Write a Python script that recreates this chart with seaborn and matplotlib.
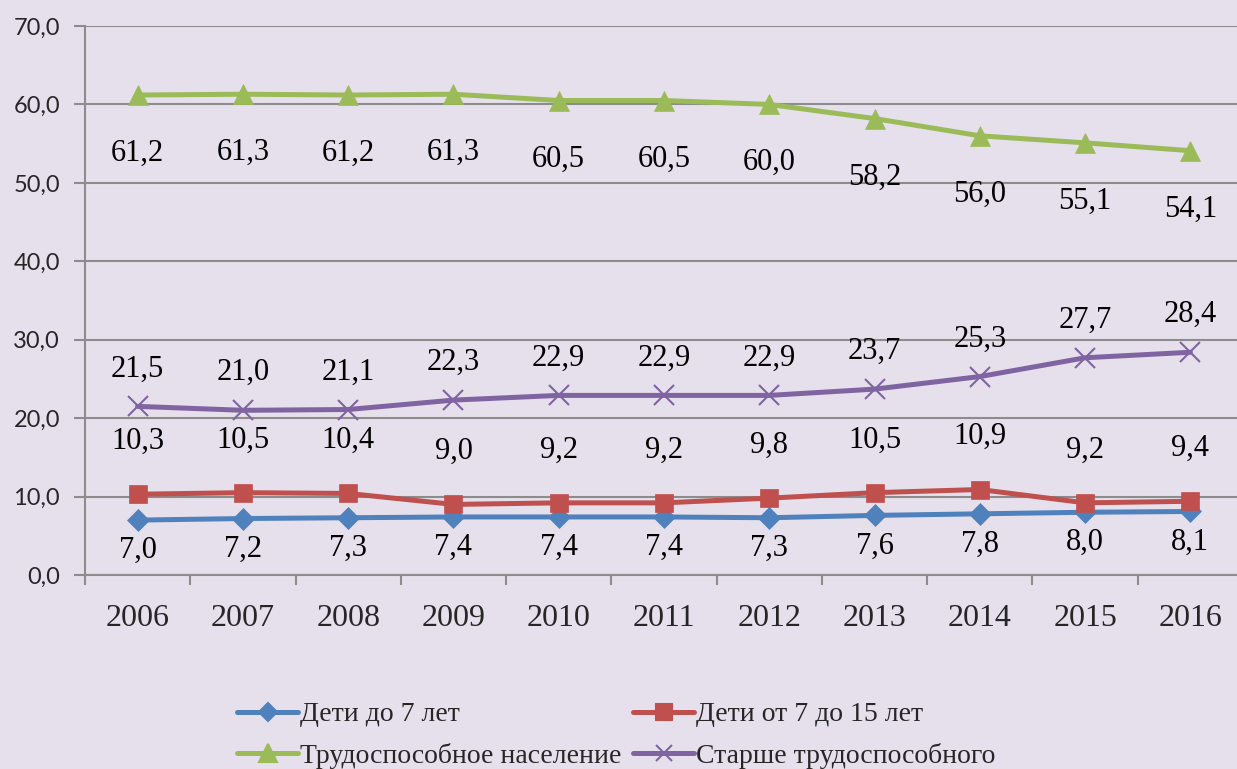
import matplotlib
matplotlib.use("Agg")
import matplotlib.pyplot as plt
import matplotlib.ticker as mticker
from matplotlib.lines import Line2D
import seaborn as sns
import pandas as pd

# данные
years = [2006, 2007, 2008, 2009, 2010, 2011, 2012, 2013, 2014, 2015, 2016]
kids_7 = [7.0, 7.2, 7.3, 7.4, 7.4, 7.4, 7.3, 7.6, 7.8, 8.0, 8.1]
kids_7_15 = [10.3, 10.5, 10.4, 9.0, 9.2, 9.2, 9.8, 10.5, 10.9, 9.2, 9.4]
working = [61.2, 61.3, 61.2, 61.3, 60.5, 60.5, 60.0, 58.2, 56.0, 55.1, 54.1]
older = [21.5, 21.0, 21.1, 22.3, 22.9, 22.9, 22.9, 23.7, 25.3, 27.7, 28.4]

names = ['Дети до 7 лет', 'Дети от 7 до 15 лет',
         'Трудоспособное население', 'Старше трудоспособного']
series = [kids_7, kids_7_15, working, older]
colors = ['#4F81BD', '#C0504D', '#9BBB59', '#8064A2']
markers = ['D', 's', '^', 'x']
msizes = [11, 13, 15, 14]
# смещение подписей (в пунктах)
label_dy = [-22, 38, -42, 27]

bg = '#E6E0EC'
grid_c = '#8C8C8C'

df = pd.concat([pd.DataFrame({'Год': years, 'Значение': v, 'Группа': n})
                for n, v in zip(names, series)], ignore_index=True)

sns.set_theme(style='white')
plt.rcParams['font.family'] = 'serif'
plt.rcParams['font.serif'] = ['Liberation Serif', 'DejaVu Serif']

fig = plt.figure(figsize=(12.37, 7.69), dpi=100, facecolor=bg)
ax = fig.add_axes([85 / 1237, 194 / 769, 1158 / 1237, 549 / 769])
ax.set_facecolor(bg)

for n, c, m, ms in zip(names, colors, markers, msizes):
    sub = df[df['Группа'] == n]
    sns.lineplot(data=sub, x='Год', y='Значение', color=c, lw=3.6,
                 marker=m, markersize=ms, markeredgecolor=c,
                 markeredgewidth=1.5 if m == 'x' else 0.5,
                 ax=ax, legend=False, zorder=3)

for vals, dy in zip(series, label_dy):
    for x, y in zip(years, vals):
        ax.annotate(f'{y:.1f}'.replace('.', ','), (x, y),
                    xytext=(0, dy), textcoords='offset points',
                    ha='center', va='center', fontsize=22, color='black')

ax.set_xlim(2005.5, 2016.5)
ax.set_ylim(0, 70)
ax.set_xticks(years)
ax.set_xticklabels([str(y) for y in years], fontsize=23)
ax.set_xticks([y + 0.5 for y in [2005] + years[:-1]], minor=True)
ax.tick_params(axis='x', which='major', length=0, pad=21)
ax.tick_params(axis='x', which='minor', length=7, width=1.5,
               color=grid_c, direction='out', bottom=True)

ax.set_yticks(range(0, 71, 10))
ax.yaxis.set_major_formatter(mticker.FuncFormatter(
    lambda v, p: f'{v:.1f}'.replace('.', ',')))
ax.tick_params(axis='y', length=8, width=1.5, color=grid_c,
               direction='out', left=True, pad=10)
for lbl in ax.get_yticklabels():
    lbl.set_family(['Lato', 'DejaVu Sans'])
    lbl.set_fontsize(17)

ax.grid(axis='y', color=grid_c, lw=1.5)
ax.set_axisbelow(True)
for s in ['top', 'right']:
    ax.spines[s].set_visible(False)
for s in ['left', 'bottom']:
    ax.spines[s].set_color(grid_c)
    ax.spines[s].set_linewidth(1.5)
ax.set_xlabel('')
ax.set_ylabel('')

handles = [Line2D([], [], color=c, lw=3.6, marker=m, markersize=ms * 0.85,
                  markeredgecolor=c, markeredgewidth=1.5)
           for c, m, ms in zip(colors, markers, msizes)]
order = [0, 2, 1, 3]
fig.legend([handles[i] for i in order], [names[i] for i in order],
           ncol=2, loc='lower left', bbox_to_anchor=(212 / 1237, -0.032),
           frameon=False, fontsize=20, handlelength=2.2,
           handletextpad=0.05, columnspacing=0.45, labelspacing=0.55)

fig.savefig('out.png', dpi=100, facecolor=bg)
